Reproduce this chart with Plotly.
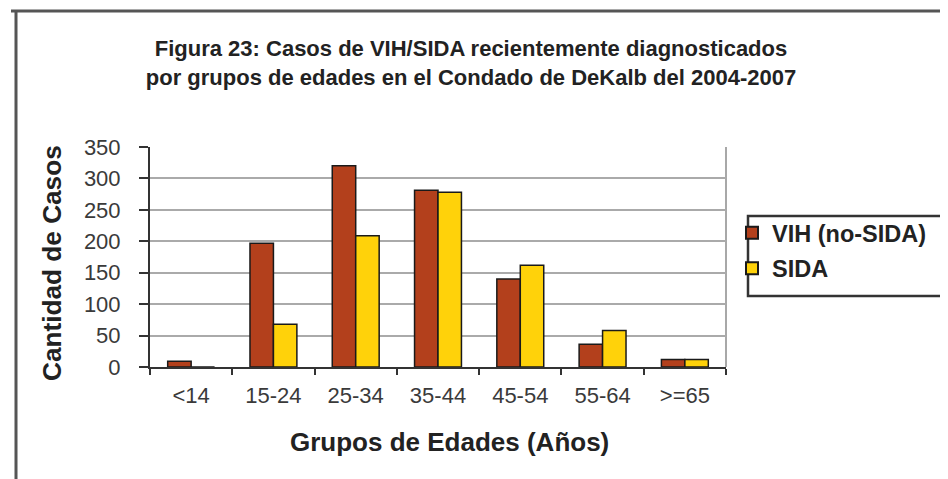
import plotly.graph_objects as go

categories = ["<14", "15-24", "25-34", "35-44", "45-54", "55-64", ">=65"]
vih_no_sida = [9, 197, 320, 281, 140, 36, 12]
sida = [0, 68, 209, 278, 162, 58, 12]

W, H = 948, 479
L, R, T, B = 142, 718, 139, 359

def px(x):
    return (x - L) / (R - L)

def py(y):
    return (B - y) / (B - T)

fig = go.Figure()
fig.add_trace(go.Bar(
    x=categories, y=vih_no_sida, name="VIH (no-SIDA)", legendgroup="a",
    marker=dict(color="#B3401C", line=dict(color="#1a1a1a", width=1.5)),
))
fig.add_trace(go.Bar(
    x=categories, y=sida, name="SIDA", legendgroup="b",
    marker=dict(color="#FFD20A", line=dict(color="#1a1a1a", width=1.5)),
))

shapes = [
    # plot area right border
    dict(type="line", xref="paper", yref="paper", x0=1, x1=1, y0=0, y1=1,
         line=dict(color="#a8a8a8", width=2), layer="below"),
    # outer frame (top and left)
    dict(type="line", xref="paper", yref="paper", x0=px(3), x1=px(948), y0=py(3), y1=py(3),
         line=dict(color="#555555", width=3)),
    dict(type="line", xref="paper", yref="paper", x0=px(8), x1=px(8), y0=py(3), y1=py(479),
         line=dict(color="#555555", width=3)),
    # legend box
    dict(type="rect", xref="paper", yref="paper", x0=px(740), x1=px(960), y0=py(288), y1=py(208),
         line=dict(color="#333333", width=2.5)),
]

annotations = [
    dict(text="<b>Cantidad de Casos</b>", textangle=-90, showarrow=False,
         xref="paper", yref="paper", x=px(44), y=py(255), xanchor="center", yanchor="middle",
         font=dict(size=26.2, color="#222222")),
    dict(text="<b>Grupos de Edades (Años)</b>", showarrow=False,
         xref="paper", yref="paper", x=px(441), y=py(434), xanchor="center", yanchor="middle",
         font=dict(size=26, color="#222222")),
]

fig.update_layout(
    width=W, height=H,
    margin=dict(l=L, r=W - R, t=T, b=H - B),
    paper_bgcolor="white", plot_bgcolor="white",
    barmode="group", bargap=0.43, bargroupgap=0,
    font=dict(family="Liberation Sans, Arial", color="#222222"),
    title=dict(
        text="<b>Figura 23: Casos de VIH/SIDA recientemente diagnosticados<br>por grupos de edades en el Condado de DeKalb del 2004-2007</b>",
        x=px(463), xref="paper", xanchor="center",
        y=1 - 48 / H, yref="container", yanchor="middle",
        font=dict(size=22, color="#222222", family="Liberation Sans, Arial"),
    ),
    showlegend=True,
    legend=dict(
        x=px(724), y=py(203), xanchor="left", yanchor="top",
        bgcolor="rgba(0,0,0,0)", borderwidth=0,
        font=dict(size=23.5, color="#222222", family="Liberation Sans, Arial", weight="bold"),
        itemsizing="constant", tracegroupgap=2,
    ),
    shapes=shapes,
    annotations=annotations,
    xaxis=dict(
        type="category", tickson="boundaries",
        ticks="outside", ticklen=6, tickcolor="#333333", tickwidth=2,
        showline=True, linecolor="#333333", linewidth=2,
        tickfont=dict(size=22, color="#3a3a3a"), ticklabelstandoff=8,
        showgrid=False,
    ),
    yaxis=dict(
        range=[0, 350], dtick=50, tick0=0,
        ticks="outside", ticklen=9, tickcolor="#333333", tickwidth=2,
        showline=True, linecolor="#333333", linewidth=2,
        showgrid=True, gridcolor="#aaaaaa", gridwidth=2,
        tickfont=dict(size=22, color="#3a3a3a"), ticklabelstandoff=14,
        zeroline=False,
    ),
)

fig.write_html("out.html")
